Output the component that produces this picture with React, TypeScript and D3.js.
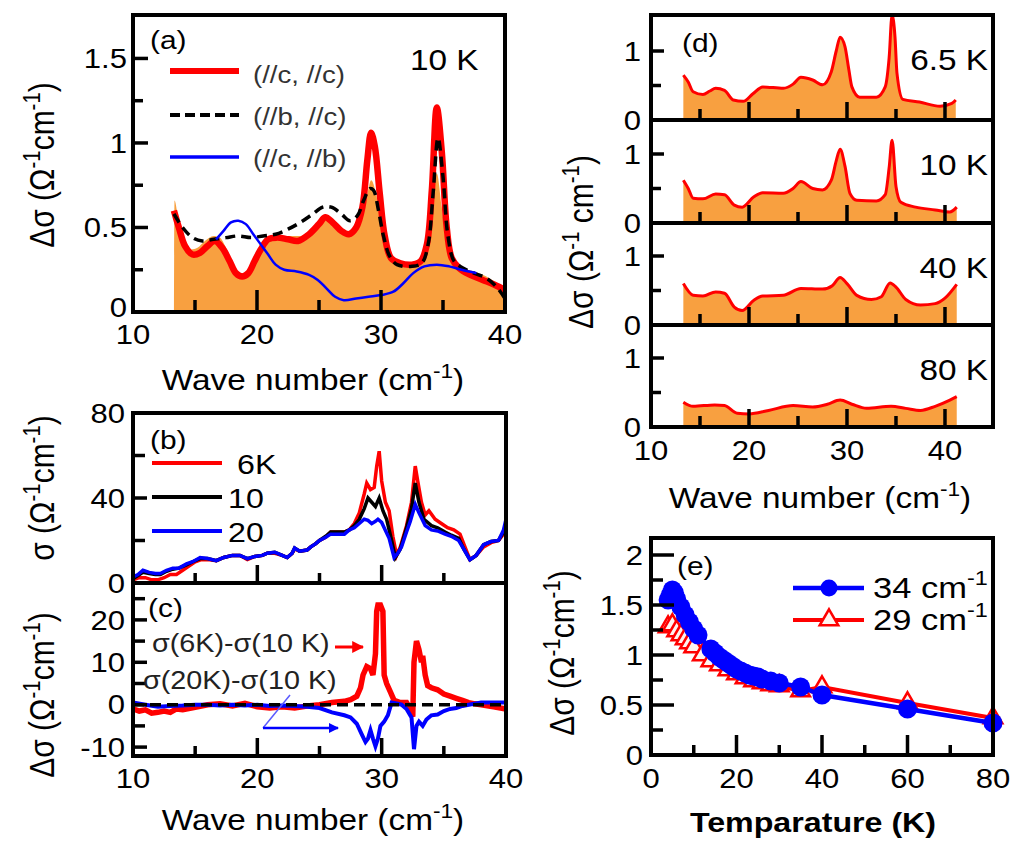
import React from "react";
import * as d3 from "d3";

type P = [number, number];

const FONT = "'Liberation Sans', Arial, Helvetica, sans-serif";
const SX = 1.15;
const ORANGE = "#f8a040";
const RED = "#ff0000";
const BLUE = "#0000ff";

// ---------- (a) 10 K, three polarisations
const aFill: P[] = [
  [13.3, 0], [13.35, 0.66], [13.7, 0.52], [14.2, 0.42], [14.7, 0.37], [15.2, 0.38], [15.8, 0.42], [16.5, 0.45],
  [17, 0.44], [17.5, 0.38], [18, 0.3], [18.6, 0.23], [19.2, 0.23], [19.7, 0.28], [20.2, 0.35], [20.8, 0.43],
  [21.5, 0.45], [22.5, 0.45], [23.5, 0.45], [24.5, 0.5], [25.5, 0.57], [26.3, 0.52], [27.3, 0.47], [28, 0.5],
  [28.5, 0.58], [28.9, 0.7], [29.2, 0.78], [29.6, 0.7], [30, 0.52], [30.5, 0.36], [31, 0.3], [32, 0.29],
  [33, 0.31], [33.6, 0.4], [34.1, 0.62], [34.5, 0.82], [34.9, 0.62], [35.3, 0.38], [35.8, 0.28], [36.5, 0.26],
  [37.5, 0.24], [38.5, 0.21], [39.3, 0.17], [40, 0.12], [40, 0],
];
const aCC: P[] = [
  [13.3, 0.6], [13.7, 0.5], [14.2, 0.39], [14.8, 0.34], [15.4, 0.35], [16, 0.39], [16.6, 0.42], [17.2, 0.38],
  [17.8, 0.3], [18.3, 0.23], [18.8, 0.21], [19.3, 0.23], [19.8, 0.3], [20.3, 0.37], [20.9, 0.43], [21.6, 0.44],
  [22.5, 0.43], [23.3, 0.42], [24.2, 0.46], [25, 0.52], [25.5, 0.56], [26.1, 0.53], [26.8, 0.48], [27.4, 0.46],
  [28, 0.5], [28.5, 0.62], [28.9, 0.9], [29.2, 1.06], [29.5, 0.98], [29.9, 0.7], [30.3, 0.45], [30.8, 0.32],
  [31.5, 0.29], [32.5, 0.28], [33.2, 0.3], [33.7, 0.4], [34.1, 0.72], [34.5, 1.21], [34.9, 0.95], [35.3, 0.5],
  [35.7, 0.32], [36.3, 0.26], [37.2, 0.22], [38.2, 0.19], [39.2, 0.16], [40, 0.13],
];
const aBC: P[] = [
  [13.3, 0.58], [14, 0.5], [14.8, 0.44], [15.6, 0.42], [16.5, 0.43], [17.5, 0.44], [18.5, 0.45], [19.5, 0.44],
  [20.5, 0.45], [21.5, 0.46], [22.5, 0.49], [23.5, 0.53], [24.5, 0.58], [25.3, 0.62], [26, 0.62], [26.8, 0.58],
  [27.5, 0.54], [28.1, 0.57], [28.6, 0.66], [29.1, 0.73], [29.4, 0.72], [29.8, 0.6], [30.2, 0.45], [30.7, 0.33],
  [31.3, 0.28], [32.5, 0.27], [33.3, 0.29], [33.8, 0.4], [34.2, 0.7], [34.6, 1.03], [35, 0.8], [35.4, 0.45],
  [35.9, 0.3], [36.6, 0.26], [37.5, 0.23], [38.5, 0.2], [39.3, 0.15], [40, 0.08],
];
const aCB: P[] = [
  [16.7, 0.43], [17.3, 0.48], [17.9, 0.53], [18.5, 0.54], [19.1, 0.52], [19.7, 0.46], [20.3, 0.4], [20.9, 0.34],
  [21.5, 0.28], [22.2, 0.25], [23.2, 0.24], [24.2, 0.22], [24.9, 0.19], [25.6, 0.14], [26.3, 0.09], [27, 0.07],
  [28, 0.08], [29, 0.09], [30, 0.1], [31, 0.12], [31.8, 0.17], [32.6, 0.23], [33.5, 0.27], [34.5, 0.28],
  [35.5, 0.27], [36.5, 0.25], [37.7, 0.23],
];
const aLegend = ["(//c, //c)", "(//b, //c)", "(//c, //b)"];

// ---------- (b) sigma at 6 K, 10 K, 20 K
const b6K: P[] = [
  [10, 1.5], [10.5, 2.5], [11, 2.5], [11.5, 1.5], [12, 1.5], [12.5, 2.5], [13, 4], [13.5, 4], [14, 6], [14.5, 8],
  [15, 10], [15.5, 11], [16, 11], [16.7, 10.5], [17.3, 12], [18, 13], [18.6, 13], [19.2, 11], [19.8, 12.5],
  [20.4, 13], [20.8, 14], [21.4, 14], [22, 13], [22.4, 12], [22.8, 14], [23, 16], [23.4, 15], [24, 15.5],
  [24.3, 17], [24.7, 18.5], [25, 20], [25.5, 21.5], [25.9, 24], [26.5, 24], [27, 24], [27.4, 25], [27.8, 28],
  [28.2, 33], [28.6, 42], [28.8, 47], [29.1, 44], [29.4, 45], [29.6, 55], [29.8, 62], [30, 48], [30.3, 38],
  [30.6, 34], [30.9, 22], [31.2, 13], [31.5, 17], [32, 27], [32.4, 38], [32.7, 55], [32.9, 48], [33.2, 38],
  [33.5, 32], [33.8, 34], [34.3, 30], [34.8, 28], [35.3, 26], [35.8, 25], [36.3, 23], [36.7, 17], [37.1, 11],
  [37.6, 13], [38.2, 17], [38.8, 19], [39.4, 20], [39.8, 23], [40, 26],
];
const b10K: P[] = [
  [10, 2], [10.4, 3.5], [10.8, 5], [11.3, 4.5], [11.8, 4], [12.2, 4], [12.7, 5.5], [13.2, 6.5], [13.7, 7],
  [14.3, 8.5], [14.8, 10], [15.4, 11.5], [16, 11.5], [16.7, 10.5], [17.3, 12], [18, 13], [18.6, 13], [19.2, 11.5],
  [19.8, 12.5], [20.4, 13], [20.8, 14], [21.4, 14.5], [22, 13], [22.4, 12], [22.8, 14], [23, 16.5], [23.4, 15],
  [24, 15.5], [24.3, 17], [24.7, 18.5], [25, 20], [25.5, 22], [25.9, 24], [26.5, 24], [27, 24], [27.4, 25],
  [27.8, 27], [28.2, 30], [28.6, 35], [28.9, 40], [29.2, 38], [29.5, 36], [29.8, 40], [30.1, 34], [30.4, 30],
  [30.8, 20], [31.1, 12], [31.5, 16], [32, 26], [32.4, 35], [32.7, 47], [33, 38], [33.4, 30], [34, 27],
  [34.5, 26], [35.1, 24], [35.6, 22.5], [36.2, 21], [36.6, 16], [37.1, 11], [37.6, 13], [38.2, 18], [38.8, 19.5],
  [39.4, 20], [39.8, 24], [40, 28],
];
const b20K: P[] = [
  [10, 2.8], [10.4, 4], [10.8, 6], [11.3, 5], [11.8, 4.5], [12.2, 4.5], [12.7, 6], [13.2, 7], [13.7, 7],
  [14.3, 9], [14.8, 10], [15.4, 12], [16, 11.5], [16.7, 10.5], [17.3, 12], [18, 13], [18.6, 13], [19.2, 11.5],
  [19.8, 12.5], [20.4, 13], [20.8, 14], [21.4, 14.5], [22, 13], [22.4, 12], [22.8, 14], [23, 16.5], [23.4, 15],
  [24, 15.5], [24.3, 17], [24.7, 18.5], [25, 20], [25.5, 21.5], [25.9, 23], [26.5, 23], [27, 23], [27.4, 25],
  [27.8, 26], [28.2, 28], [28.6, 30], [28.9, 29.5], [29.2, 28], [29.5, 29], [29.7, 30], [30, 28.5], [30.2, 26],
  [30.6, 21], [31, 12], [31.3, 14], [31.6, 17], [32, 24], [32.3, 29], [32.7, 37], [33, 33], [33.5, 27], [34, 25],
  [34.5, 24.5], [35.1, 23], [35.6, 22], [36.2, 20], [36.6, 16], [37.1, 11], [37.6, 13], [38.2, 18], [38.8, 19.5],
  [39.4, 20], [39.8, 25], [40, 30],
];
const bLegend = ["6K", "10", "20"];

// ---------- (c) differences
const c6m10: P[] = [
  [10, -1], [10.5, -1.5], [11, -1.2], [11.5, -2], [12, -1.8], [12.5, -1.5], [13, -1.8], [13.5, -1], [14, -1.2],
  [15, -0.6], [16, 0], [17, 0.2], [18, -0.3], [19, 0.3], [20, -0.5], [21, -0.8], [22, -0.5], [23, -0.8],
  [24, -0.3], [25, 0], [26, 0.5], [27, 0.8], [27.5, 1.2], [28, 2], [28.3, 4], [28.5, 7], [28.8, 9], [29.1, 8.5],
  [29.3, 7], [29.5, 12], [29.6, 22], [29.7, 23.5], [29.9, 23.5], [30.1, 22], [30.2, 7], [30.4, 5], [30.7, 3],
  [31, 1], [31.5, 0.5], [32, 0.5], [32.3, -1], [32.5, -2.8], [32.6, 10], [32.8, 15], [33, 13], [33.2, 10],
  [33.3, 11.5], [33.5, 7], [33.7, 4.5], [34, 4], [34.5, 3.5], [35, 2.5], [35.5, 2], [36, 1.5], [36.5, 1],
  [37, 0.5], [37.5, 0.2], [38, 0], [39, -0.5], [40, -1],
];
const c20m10: P[] = [
  [10, 0.5], [11, 0], [12, -0.5], [13, -0.3], [14, -0.2], [15, 0], [16, 0], [17, -0.2], [18, 0], [19, -0.2],
  [20, 0], [21, -0.3], [22, -0.2], [23, -0.3], [24, -0.5], [25, -0.8], [26, -1.8], [27, -2.5], [27.5, -3],
  [28, -4.5], [28.4, -7], [28.7, -8.8], [28.9, -8], [29.1, -6], [29.3, -8], [29.5, -9.8], [29.7, -8], [29.9, -5],
  [30.2, -4], [30.5, -2.5], [30.8, 0.5], [31.2, 0.3], [31.6, 0], [32, -1], [32.4, -3], [32.6, -10.5], [32.8, -5],
  [33, -4], [33.3, -5], [33.6, -3.5], [34, -2.5], [34.5, -2.3], [35, -1.5], [35.5, -1], [36, -0.8], [36.5, -0.3],
  [37, 0], [38, 0.5], [39, 0.5], [40, 0.5],
];
const cNotes = ["σ(6K)-σ(10 K)", "σ(20K)-σ(10 K)"];

// ---------- (d) temperature series
const d65: P[] = [
  [13.3, 0.65], [13.8, 0.55], [14.3, 0.41], [15.3, 0.37], [16, 0.42], [16.6, 0.46], [17.5, 0.43], [18.4, 0.29],
  [19.4, 0.27], [20.4, 0.38], [21.4, 0.48], [23.5, 0.46], [24.5, 0.52], [25.3, 0.62], [26.5, 0.58], [27.5, 0.51],
  [28.4, 0.7], [28.9, 1.0], [29.3, 1.2], [29.8, 1.06], [30.2, 0.72], [30.5, 0.48], [31.3, 0.33], [33, 0.33],
  [33.9, 0.48], [34.3, 0.9], [34.6, 1.52], [34.9, 1.2], [35.1, 0.68], [35.7, 0.3], [37.4, 0.26], [39.5, 0.2],
  [40.7, 0.24], [41.1, 0.29],
];
const d10: P[] = [
  [13.3, 0.62], [13.8, 0.5], [14.3, 0.36], [15.3, 0.35], [16.6, 0.42], [17.5, 0.41], [18.5, 0.26], [19.3, 0.23],
  [20.5, 0.38], [21.4, 0.44], [23.5, 0.43], [24.5, 0.5], [25.3, 0.6], [26.5, 0.5], [27.5, 0.48], [28.4, 0.62],
  [28.9, 0.9], [29.3, 1.07], [29.8, 0.82], [30.3, 0.43], [31, 0.33], [33, 0.32], [33.9, 0.41], [34.3, 0.8],
  [34.6, 1.2], [35, 0.53], [35.5, 0.3], [37, 0.23], [39, 0.19], [40.5, 0.16], [41.2, 0.23],
];
const d40: P[] = [
  [13.3, 0.6], [14.3, 0.43], [15.3, 0.42], [16.6, 0.48], [17.5, 0.46], [18.5, 0.26], [19.3, 0.21], [20.5, 0.36],
  [21.4, 0.42], [23.5, 0.43], [25.3, 0.53], [27.5, 0.52], [28.5, 0.57], [29.3, 0.69], [30, 0.6], [31, 0.43],
  [32.5, 0.37], [33.5, 0.41], [34.4, 0.61], [35, 0.55], [36, 0.37], [37.5, 0.29], [39, 0.31], [40, 0.39],
  [41.2, 0.59],
];
const d80: P[] = [
  [13.3, 0.36], [14.3, 0.3], [16.5, 0.32], [17.5, 0.31], [18.8, 0.2], [20, 0.19], [22, 0.24], [24.5, 0.31],
  [26.5, 0.29], [28, 0.33], [29.3, 0.39], [30.5, 0.33], [32, 0.27], [34.5, 0.3], [36, 0.27], [37.5, 0.24],
  [39, 0.3], [40.5, 0.39], [41.2, 0.44],
];
const dSeries = [d65, d10, d40, d80];
const dTemps = ["6.5 K", "10 K", "40 K", "80 K"];

// ---------- (e) peak height vs temperature
const e34: P[] = [
  [4, 1.55], [4.5, 1.6], [5, 1.65], [5.5, 1.62], [6, 1.56], [7, 1.48], [8, 1.4], [9, 1.33], [10, 1.26],
  [11, 1.2], [14, 1.06], [15, 1.02], [16, 0.98], [17, 0.95], [18, 0.92], [19, 0.89], [20, 0.86], [21, 0.84],
  [22, 0.82], [23, 0.8], [24, 0.79], [25, 0.78], [26, 0.76], [28, 0.74], [30, 0.72], [35, 0.68], [40, 0.6],
  [60, 0.46], [80, 0.32],
];
const e29: P[] = [
  [4, 1.28], [5, 1.3], [6, 1.24], [7, 1.2], [8, 1.16], [9, 1.12], [10, 1.08], [12, 1.0], [14, 0.94],
  [16, 0.9], [18, 0.85], [20, 0.81], [22, 0.77], [24, 0.74], [26, 0.72], [28, 0.7], [30, 0.69], [35, 0.64],
  [40, 0.68], [60, 0.52], [80, 0.37],
];
const eLegend = ["34 cm", "29 cm"];

// ticks
const waveLabels = [10, 20, 30, 40];
const waveMajor = [20, 30];
const waveMinor = [15, 25, 35];
const dMajor = [20, 30, 40];
const dMinor = [15, 25, 35];
const tLabels = [0, 20, 40, 60, 80];
const tMajor = [20, 40, 60];
const tMinor = [10, 30, 50, 70];

function Txt({ x, y, size, anchor = "start", rot = false, fill = "#000", weight = "normal", children }: any) {
  const tf = `translate(${x},${y}) scale(${SX},1)${rot ? " rotate(-90)" : ""}`;
  return (
    <text transform={tf} fontSize={size} textAnchor={anchor} fill={fill} fontFamily={FONT} fontWeight={weight}>
      {children}
    </text>
  );
}

// text with superscript "-1" parts
function supText(parts: (string | [string])[], size: number) {
  const out: any[] = [];
  let raised = false;
  parts.forEach((p, i) => {
    if (Array.isArray(p)) {
      out.push(<tspan key={i} dy={-size * 0.42} fontSize={size * 0.68}>{p[0]}</tspan>);
      raised = true;
    } else {
      out.push(<tspan key={i} dy={raised ? size * 0.42 : 0}>{p}</tspan>);
      raised = false;
    }
  });
  return out;
}

const line = (x: any, y: any, curve: any = d3.curveLinear) =>
  d3.line<P>().x((d) => x(d[0])).y((d) => y(d[1])).curve(curve);

function Frame({ x, y }: any) {
  const [x0, x1] = x.range();
  const [y0, y1] = y.range();
  return <rect x={x0} y={y1} width={x1 - x0} height={y0 - y1} fill="none" stroke="#000" strokeWidth={4} />;
}

function XTicks({ x, y, major, minor, lmaj, lmin }: any) {
  const yb = y.range()[0];
  return (
    <g stroke="#000" strokeWidth={3.5}>
      {major.map((v: number) => <line key={"M" + v} x1={x(v)} x2={x(v)} y1={yb} y2={yb - lmaj} />)}
      {minor.map((v: number) => <line key={"m" + v} x1={x(v)} x2={x(v)} y1={yb} y2={yb - lmin} />)}
    </g>
  );
}

function YTicks({ x, y, major, minor, lmaj, lmin }: any) {
  const xl = x.range()[0];
  return (
    <g stroke="#000" strokeWidth={3.5}>
      {major.map((v: number) => <line key={"M" + v} x1={xl} x2={xl + lmaj} y1={y(v)} y2={y(v)} />)}
      {minor.map((v: number) => <line key={"m" + v} x1={xl} x2={xl + lmin} y1={y(v)} y2={y(v)} />)}
    </g>
  );
}

function XLabels({ x, vals, base, size = 26 }: any) {
  return (
    <g>
      {vals.map((v: number) => (
        <Txt key={v} x={x(v)} y={base} size={size} anchor="middle">{v}</Txt>
      ))}
    </g>
  );
}

function YLabels({ y, vals, right, size = 26, zeroLift = 0 }: any) {
  return (
    <g>
      {vals.map((v: number) => (
        <Txt key={v} x={right} y={y(v) + size * 0.36 - (v === 0 ? zeroLift : 0)} size={size} anchor="end">{v}</Txt>
      ))}
    </g>
  );
}

function PanelA() {
  const x = d3.scaleLinear().domain([10, 40]).range([133, 505]);
  const y = d3.scaleLinear().domain([0, 1.757]).range([312, 15]);
  const area = d3.area<P>().x((d) => x(d[0])).y0(y(0)).y1((d) => y(d[1])).curve(d3.curveMonotoneX);
  const ln = line(x, y, d3.curveCatmullRom);
  return (
    <g>
      <path d={area(aFill) || ""} fill={ORANGE} />
      <path d={ln(aCC) || ""} fill="none" stroke={RED} strokeWidth={6.5} />
      <path d={ln(aBC) || ""} fill="none" stroke="#000" strokeWidth={3.5} strokeDasharray="10,6" />
      <path d={ln(aCB) || ""} fill="none" stroke={BLUE} strokeWidth={2.5} />
      <XTicks x={x} y={y} major={waveMajor} minor={waveMinor} lmaj={22} lmin={12} />
      <YTicks x={x} y={y} major={[0.5, 1, 1.5]} minor={[0.25, 0.75, 1.25]} lmaj={15} lmin={10} />
      <Frame x={x} y={y} />
      <YLabels y={y} vals={[0, 0.5, 1, 1.5]} right={127} size={27} zeroLift={5} />
      <XLabels x={x} vals={waveLabels} base={344} size={27} />
      <Txt x={150} y={49} size={26}>(a)</Txt>
      <Txt x={410} y={70} size={29}>10 K</Txt>
      <line x1={170} x2={239} y1={71} y2={71} stroke={RED} strokeWidth={6} />
      <line x1={170} x2={239} y1={115} y2={115} stroke="#000" strokeWidth={4} strokeDasharray="10,5" />
      <line x1={170} x2={239} y1={157} y2={157} stroke={BLUE} strokeWidth={3.5} />
      {aLegend.map((t, i) => (
        <Txt key={t} x={253} y={83 + i * 42} size={24} fill="#333">{t}</Txt>
      ))}
      <Txt x={313} y={390} size={29} anchor="middle">{supText(["Wave number (cm", ["-1"], ")"], 29)}</Txt>
      <Txt x={54} y={165} size={30} anchor="middle" rot>{supText(["Δσ (Ω", ["-1"], "cm", ["-1"], ")"], 30)}</Txt>
    </g>
  );
}

function PanelBC() {
  const x = d3.scaleLinear().domain([10, 40]).range([133, 506]);
  const yb = d3.scaleLinear().domain([0, 80]).range([583, 413]);
  const yc = d3.scaleLinear().domain([-12.1, 28.7]).range([756, 583]);
  const lb = line(x, yb);
  const lc = line(x, yc);
  return (
    <g>
      <defs>
        <clipPath id="clipb"><rect x={133} y={413} width={373} height={170} /></clipPath>
        <clipPath id="clipc"><rect x={133} y={583} width={373} height={173} /></clipPath>
        <marker id="arrR" viewBox="0 0 10 10" refX={9} refY={5} markerWidth={4} markerHeight={4} orient="auto">
          <path d="M0,0L10,5L0,10z" fill={RED} />
        </marker>
        <marker id="arrB" viewBox="0 0 10 10" refX={9} refY={5} markerWidth={5} markerHeight={4} orient="auto">
          <path d="M0,0L10,5L0,10z" fill={BLUE} />
        </marker>
      </defs>
      <g clipPath="url(#clipb)">
        <path d={lb(b6K) || ""} fill="none" stroke={RED} strokeWidth={3.5} />
        <path d={lb(b10K) || ""} fill="none" stroke="#000" strokeWidth={3.5} />
        <path d={lb(b20K) || ""} fill="none" stroke={BLUE} strokeWidth={3.5} />
      </g>
      <g clipPath="url(#clipc)">
        <path d={lc(c6m10) || ""} fill="none" stroke={RED} strokeWidth={5.5} />
        <path d={lc(c20m10) || ""} fill="none" stroke={BLUE} strokeWidth={4} />
        <line x1={133} x2={506} y1={yc(0)} y2={yc(0)} stroke="#000" strokeWidth={3.5} strokeDasharray="11,6" />
      </g>
      <XTicks x={x} y={yb} major={waveMajor} minor={waveMinor} lmaj={18} lmin={10} />
      <XTicks x={x} y={yc} major={waveMajor} minor={waveMinor} lmaj={18} lmin={10} />
      <YTicks x={x} y={yb} major={[40]} minor={[20, 60]} lmaj={14} lmin={12} />
      <YTicks x={x} y={yc} major={[-10, 0, 10, 20]} minor={[-5, 5, 15, 25]} lmaj={14} lmin={12} />
      <Frame x={x} y={yb} />
      <Frame x={x} y={yc} />
      <YLabels y={yb} vals={[0, 40, 80]} right={125} size={27} />
      <YLabels y={yc} vals={[-10, 0, 10, 20]} right={125} size={27} />
      <XLabels x={x} vals={waveLabels} base={788} size={27} />
      <Txt x={150} y={449} size={26}>(b)</Txt>
      <Txt x={148} y={617} size={26}>(c)</Txt>
      {[RED, "#000", BLUE].map((c, i) => (
        <line key={c} x1={152} x2={222} y1={463 + i * 34} y2={463 + i * 34} stroke={c} strokeWidth={4} />
      ))}
      {bLegend.map((t, i) => (
        <Txt key={t} x={i === 0 ? 237 : 228} y={474 + i * 34} size={28}>{t}</Txt>
      ))}
      <Txt x={152} y={652} size={25} fill="#222">{cNotes[0]}</Txt>
      <Txt x={143} y={689} size={25} fill="#222">{cNotes[1]}</Txt>
      <line x1={335} x2={363} y1={647} y2={647} stroke={RED} strokeWidth={3} markerEnd="url(#arrR)" />
      <line x1={290} x2={263} y1={695} y2={728} stroke="#5a5aff" strokeWidth={1.5} />
      <line x1={263} x2={338} y1={728} y2={728} stroke={BLUE} strokeWidth={2.5} markerEnd="url(#arrB)" />
      <Txt x={313} y={830} size={29} anchor="middle">{supText(["Wave number (cm", ["-1"], ")"], 29)}</Txt>
      <Txt x={54} y={488} size={30} anchor="middle" rot>{supText(["σ (Ω", ["-1"], "cm", ["-1"], ")"], 30)}</Txt>
      <Txt x={54} y={695} size={30} anchor="middle" rot>{supText(["Δσ (Ω", ["-1"], "cm", ["-1"], ")"], 30)}</Txt>
    </g>
  );
}

function PanelD() {
  const x = d3.scaleLinear().domain([10, 44.9]).range([651, 993]);
  const tops = [15, 120, 223, 325, 427];
  return (
    <g>
      {dSeries.map((s, i) => {
        const top = tops[i];
        const bot = tops[i + 1];
        const y = d3.scaleLinear().domain([0, (bot - top) / 69]).range([bot, top]);
        const area = d3.area<P>().x((d) => x(d[0])).y0(bot).y1((d) => y(d[1])).curve(d3.curveMonotoneX);
        const ln = line(x, y, d3.curveMonotoneX);
        const id = "clipd" + i;
        return (
          <g key={i}>
            <clipPath id={id}><rect x={651} y={top} width={342} height={bot - top} /></clipPath>
            <g clipPath={`url(#${id})`}>
              <path d={area(s) || ""} fill={ORANGE} />
              <path d={ln(s) || ""} fill="none" stroke={RED} strokeWidth={3} />
            </g>
            <XTicks x={x} y={y} major={dMajor} minor={dMinor} lmaj={18} lmin={11} />
            <YTicks x={x} y={y} major={[1]} minor={[0.5]} lmaj={13} lmin={10} />
            <Frame x={x} y={y} />
            <YLabels y={y} vals={[0, 1]} right={641} size={27} />
            <Txt x={988} y={top + 55} size={29} anchor="end">{dTemps[i]}</Txt>
          </g>
        );
      })}
      <XLabels x={x} vals={waveLabels} base={460} size={27} />
      <Txt x={682} y={52} size={26}>(d)</Txt>
      <Txt x={820} y={508} size={29} anchor="middle">{supText(["Wave number (cm", ["-1"], ")"], 29)}</Txt>
      <Txt x={593} y={242} size={30} anchor="middle" rot>{supText(["Δσ (Ω", ["-1"], " cm", ["-1"], ")"], 30)}</Txt>
    </g>
  );
}

function PanelE() {
  const x = d3.scaleLinear().domain([0, 80]).range([651, 993]);
  const y = d3.scaleLinear().domain([0, 2.17]).range([755, 538]);
  const ln = line(x, y);
  const tri = d3.symbol().type(d3.symbolTriangle).size(150);
  const triPath = tri() || "";
  return (
    <g>
      <path d={ln(e29) || ""} fill="none" stroke={RED} strokeWidth={4} />
      {e29.map((d, i) => (
        <path key={i} d={triPath} transform={`translate(${x(d[0])},${y(d[1])})`} fill="#fff4f0" stroke={RED} strokeWidth={2.5} />
      ))}
      <path d={ln(e34) || ""} fill="none" stroke={BLUE} strokeWidth={4.5} />
      {e34.map((d, i) => (
        <circle key={i} cx={x(d[0])} cy={y(d[1])} r={9.5} fill={BLUE} />
      ))}
      <XTicks x={x} y={y} major={tMajor} minor={tMinor} lmaj={20} lmin={10} />
      <YTicks x={x} y={y} major={[0.5, 1, 1.5, 2]} minor={[0.25, 0.75, 1.25, 1.75]} lmaj={23} lmin={12} />
      <Frame x={x} y={y} />
      <YLabels y={y} vals={[0, 0.5, 1, 1.5, 2]} right={643} size={27} />
      <XLabels x={x} vals={tLabels} base={788} size={27} />
      <Txt x={677} y={575} size={26}>(e)</Txt>
      <line x1={793} x2={864} y1={588} y2={588} stroke={BLUE} strokeWidth={4.5} />
      <circle cx={829} cy={588} r={8.5} fill={BLUE} />
      <line x1={793} x2={864} y1={620} y2={620} stroke={RED} strokeWidth={4} />
      <path d={triPath} transform="translate(829,620)" fill="#fff4f0" stroke={RED} strokeWidth={2.5} />
      {eLegend.map((t, i) => (
        <Txt key={t} x={873} y={598 + i * 32} size={30}>{supText([t, ["-1"]], 30)}</Txt>
      ))}
      <Txt x={813} y={832} size={28} anchor="middle" weight="bold">Temparature (K)</Txt>
      <Txt x={574} y={653} size={30} anchor="middle" rot>{supText(["Δσ (Ω", ["-1"], "cm", ["-1"], ")"], 30)}</Txt>
    </g>
  );
}

export default function App() {
  return (
    <svg
      width={1015}
      height={841}
      viewBox="0 0 1015 841"
      style={{ position: "absolute", left: 0, top: 0, background: "#fff" }}
    >
      <rect width={1015} height={841} fill="#fff" />
      <PanelA />
      <PanelBC />
      <PanelD />
      <PanelE />
    </svg>
  );
}
